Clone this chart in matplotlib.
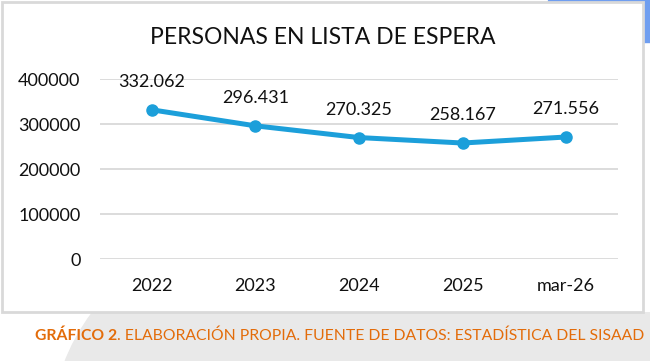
import matplotlib.pyplot as plt
from matplotlib.patches import Rectangle, Circle
import numpy as np

# data
years = ['2022', '2023', '2024', '2025', 'mar-26']
personas = [332062, 296431, 270325, 258167, 271556]
labels = ['332.062', '296.431', '270.325', '258.167', '271.556']
yticks = [0, 100000, 200000, 300000, 400000]

plt.rcParams['font.family'] = ['Lato', 'DejaVu Sans']

W, H = 650, 361
fig = plt.figure(figsize=(W / 100, H / 100), dpi=100)

def px(x, y):
    # pixel coords (top-left origin) -> figure fraction
    return x / W, 1 - y / H

# background decorations: blue strip top-right and grey circle behind caption
fig.patches.append(Rectangle(px(548, 42), 102 / W, 42 / H, transform=fig.transFigure,
                             color='#6f9ef0', zorder=0))
circ = Circle(px(560, 420), 506 / W, transform=fig.transFigure, color='#e9e9e9', zorder=0)
clip = Rectangle(px(0, 361), 1, 49 / H, transform=fig.transFigure, visible=False)
fig.patches.append(clip)
fig.patches.append(circ)
circ.set_clip_path(clip)
# chart box
x0, y0 = px(2, 312)
fig.patches.append(Rectangle((x0, y0), 641 / W, 310 / H, transform=fig.transFigure,
                             facecolor='white', edgecolor='#d9d9d9', linewidth=2, zorder=1))

ax = fig.add_axes([100 / W, 1 - 259 / H, 518 / W, (259 - 79.3) / H], zorder=2)
ax.patch.set_alpha(0)
x = np.arange(len(years))
ax.plot(x, personas, color='#1c9fda', linewidth=3.6, marker='o', markersize=8,
        solid_capstyle='round', zorder=3)
for xi, yi, lab in zip(x, personas, labels):
    ax.annotate(lab, (xi, yi), xytext=(0, 20), textcoords='offset points',
                ha='center', va='center', fontsize=13, color='#111111')

ax.set_xlim(-0.5, len(years) - 0.5)
ax.set_ylim(0, 400000)
ax.set_yticks(yticks)
ax.set_yticklabels([str(v) for v in yticks])
ax.set_xticks(x)
ax.set_xticklabels(years)
ax.tick_params(axis='both', length=0, labelsize=13, colors='#111111')
ax.tick_params(axis='y', pad=14)
ax.tick_params(axis='x', pad=14)
ax.grid(axis='y', color='#d9d9d9', linewidth=1.3)
ax.set_axisbelow(True)
for s in ax.spines.values():
    s.set_visible(False)

fig.text(*px(323, 38), 'PERSONAS EN LISTA DE ESPERA', ha='center', va='center',
         fontsize=16.5, color='#111111', zorder=3)

# caption, sized to span x 35..643 like the original
cap_bold = 'GRÁFICO 2'
cap_rest = '. ELABORACIÓN PROPIA. FUENTE DE DATOS: ESTADÍSTICA DEL SISAAD'
cx, cy = px(35, 336)
fs = 12
r = fig.canvas.get_renderer()
tb = fig.text(cx, cy, cap_bold, ha='left', va='center', fontsize=fs,
              fontweight='bold', color='#e36c0a')
tr = fig.text(0, cy, cap_rest, ha='left', va='center', fontsize=fs, color='#e36c0a')
total = tb.get_window_extent(r).width + tr.get_window_extent(r).width
fs = fs * 608 / total
tb.set_fontsize(fs)
tr.set_fontsize(fs)
tr.set_x((35 + tb.get_window_extent(r).width) / W)

fig.savefig('out.png', dpi=100)
